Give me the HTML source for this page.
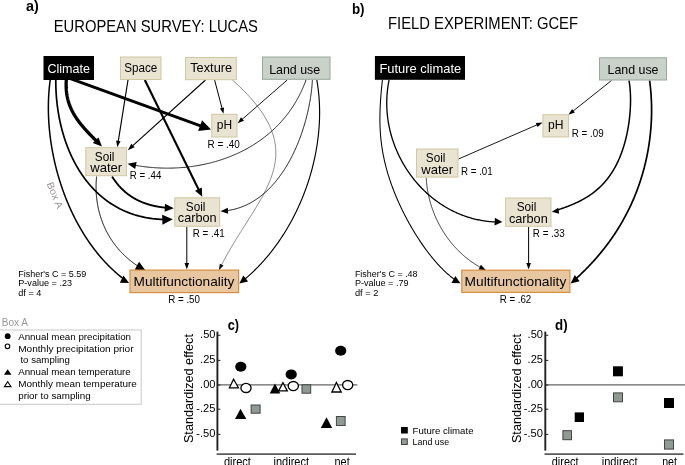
<!DOCTYPE html>
<html><head><meta charset="utf-8"><title>Figure</title>
<style>
html,body{margin:0;padding:0;background:#fff;}
body{width:685px;height:465px;overflow:hidden;}
svg{display:block;will-change:transform;font-family:"Liberation Sans",sans-serif;}
</style></head><body>
<svg width="685" height="465" viewBox="0 0 685 465">
<rect width="685" height="465" fill="#fff"/>
<text x="26.00" y="10.60" font-size="14.5" text-anchor="start" font-weight="bold" fill="#000" textLength="12.8" lengthAdjust="spacingAndGlyphs">a)</text>
<text x="53.70" y="31.80" font-size="15.9" text-anchor="start" font-weight="normal" fill="#000" textLength="204.3" lengthAdjust="spacingAndGlyphs">EUROPEAN SURVEY: LUCAS</text>
<text x="351.90" y="13.60" font-size="14.5" text-anchor="start" font-weight="bold" fill="#000" textLength="12.6" lengthAdjust="spacingAndGlyphs">b)</text>
<text x="388.00" y="29.30" font-size="15.9" text-anchor="start" font-weight="normal" fill="#000" textLength="190.0" lengthAdjust="spacingAndGlyphs">FIELD EXPERIMENT: GCEF</text>
<path d="M50.20,80.00 L50.06,81.04 L49.92,82.09 L49.79,83.14 L49.67,84.20 L49.55,85.25 L49.44,86.31 L49.33,87.37 L49.23,88.44 L49.13,89.51 L49.04,90.58 L48.96,91.66 L48.88,92.73 L48.80,93.81 L48.74,94.90 L48.67,95.98 L48.62,97.07 L48.57,98.16 L48.52,99.25 L48.48,100.35 L48.45,101.44 L48.42,102.54 L48.39,103.64 L48.38,104.75 L48.36,105.85 L48.36,106.96 L48.36,108.07 L48.36,109.18 L48.37,110.30 L48.39,111.41 L48.41,112.53 L48.44,113.65 L48.47,114.77 L48.51,115.89 L48.55,117.02 L48.60,118.14 L48.66,119.27 L48.72,120.40 L48.78,121.53 L48.85,122.66 L48.93,123.79 L49.01,124.92 L49.10,126.06 L49.20,127.19 L49.29,128.33 L49.40,129.47 L49.51,130.61 L49.62,131.75 L49.75,132.89 L49.87,134.03 L50.00,135.17 L50.14,136.31 L50.28,137.45 L50.43,138.60 L50.59,139.74 L50.74,140.88 L50.91,142.03 L51.08,143.17 L51.25,144.32 L51.44,145.46 L51.62,146.61 L51.81,147.75 L52.01,148.90 L52.21,150.04 L52.42,151.19 L52.63,152.33 L52.85,153.48 L53.08,154.62 L53.31,155.77 L53.54,156.91 L53.78,158.06 L54.03,159.20 L54.28,160.34 L54.53,161.49 L54.80,162.63 L55.06,163.77 L55.34,164.91 L55.61,166.05 L55.90,167.19 L56.18,168.32 L56.48,169.46 L56.78,170.60 L57.08,171.73 L57.39,172.87 L57.71,174.00 L58.03,175.13 L58.35,176.26 L58.68,177.39 L59.02,178.52 L59.36,179.64 L59.71,180.77 L60.06,181.89 L60.42,183.01 L60.78,184.13 L61.15,185.25 L61.52,186.36 L61.90,187.48 L62.28,188.59 L62.67,189.70 L63.07,190.81 L63.47,191.92 L63.87,193.02 L64.28,194.12 L64.70,195.22 L65.12,196.32 L65.54,197.42 L65.97,198.51 L66.41,199.60 L66.85,200.69 L67.30,201.77 L67.75,202.86 L68.21,203.94 L68.67,205.02 L69.14,206.09 L69.61,207.16 L70.08,208.23 L70.57,209.30 L71.06,210.36 L71.55,211.43 L72.05,212.48 L72.55,213.54 L73.06,214.59 L73.57,215.64 L74.09,216.68 L74.61,217.72 L75.14,218.76 L75.68,219.80 L76.22,220.83 L76.76,221.86 L77.31,222.88 L77.87,223.90 L78.43,224.92 L78.99,225.93 L79.56,226.94 L80.13,227.94 L80.72,228.95 L81.30,229.94 L81.89,230.94 L82.49,231.92 L83.09,232.91 L83.69,233.89 L84.30,234.87 L84.92,235.84 L85.54,236.81 L86.16,237.77 L86.79,238.73 L87.43,239.68 L88.07,240.63 L88.72,241.58 L89.37,242.52 L90.02,243.46 L90.68,244.39 L91.35,245.31 L92.02,246.24 L92.70,247.15 L93.38,248.06 L94.06,248.97 L94.75,249.87 L95.45,250.77 L96.15,251.66 L96.85,252.54 L97.56,253.42 L98.28,254.30 L99.00,255.17 L99.73,256.03 L100.46,256.89 L101.19,257.74 L101.93,258.59 L102.68,259.43 L103.43,260.26 L104.18,261.09 L104.94,261.92 L105.71,262.74 L106.48,263.55 L107.25,264.35 L108.03,265.15 L108.82,265.95 L109.61,266.73 L110.40,267.51 L111.20,268.29 L112.00,269.06 L112.81,269.82 L113.63,270.57 L114.44,271.32 L115.27,272.07 L116.10,272.80 L116.93,273.53 L117.77,274.25 L118.61,274.97 L119.46,275.68 L120.31,276.38 L121.17,277.07 L122.03,277.76 L122.90,278.44 L123.77,279.11 L124.34,279.55" fill="none" stroke="#000" stroke-width="1.5" stroke-linejoin="round"/>
<polygon points="129.10,283.00 119.80,282.75 123.43,275.62" fill="#000"/>
<path d="M55.80,80.00 L55.80,81.06 L55.80,82.11 L55.80,83.17 L55.82,84.23 L55.84,85.29 L55.86,86.34 L55.89,87.40 L55.93,88.46 L55.97,89.52 L56.01,90.57 L56.07,91.63 L56.13,92.69 L56.19,93.74 L56.26,94.80 L56.33,95.85 L56.42,96.91 L56.50,97.96 L56.60,99.02 L56.69,100.07 L56.80,101.12 L56.91,102.17 L57.02,103.23 L57.14,104.28 L57.27,105.32 L57.40,106.37 L57.54,107.42 L57.69,108.46 L57.84,109.51 L57.99,110.55 L58.15,111.59 L58.32,112.63 L58.49,113.67 L58.67,114.71 L58.86,115.74 L59.05,116.78 L59.24,117.81 L59.45,118.84 L59.65,119.87 L59.87,120.90 L60.09,121.92 L60.31,122.94 L60.54,123.96 L60.78,124.98 L61.02,126.00 L61.27,127.01 L61.52,128.02 L61.78,129.03 L62.05,130.04 L62.32,131.05 L62.60,132.05 L62.88,133.05 L63.17,134.04 L63.47,135.04 L63.77,136.03 L64.08,137.02 L64.39,138.00 L64.71,138.99 L65.03,139.96 L65.36,140.94 L65.70,141.91 L66.04,142.88 L66.39,143.85 L66.74,144.81 L67.10,145.77 L67.47,146.73 L67.84,147.68 L68.22,148.63 L68.60,149.58 L68.99,150.52 L69.39,151.46 L69.79,152.40 L70.19,153.33 L70.61,154.25 L71.03,155.18 L71.45,156.10 L71.88,157.01 L72.32,157.92 L72.76,158.83 L73.21,159.73 L73.67,160.63 L74.13,161.52 L74.59,162.41 L75.07,163.30 L75.55,164.17 L76.03,165.05 L76.52,165.92 L77.02,166.79 L77.52,167.65 L78.03,168.50 L78.54,169.36 L79.06,170.20 L79.59,171.04 L80.12,171.88 L80.66,172.71 L81.21,173.54 L81.76,174.36 L82.32,175.17 L82.88,175.98 L83.45,176.79 L84.02,177.58 L84.60,178.38 L85.19,179.16 L85.79,179.95 L86.38,180.72 L86.99,181.49 L87.60,182.26 L88.22,183.02 L88.84,183.77 L89.47,184.51 L90.11,185.25 L90.75,185.99 L91.40,186.72 L92.05,187.44 L92.71,188.15 L93.38,188.86 L94.05,189.56 L94.73,190.26 L95.42,190.95 L96.11,191.63 L96.80,192.31 L97.51,192.97 L98.22,193.64 L98.93,194.29 L99.65,194.94 L100.38,195.58 L101.11,196.21 L101.85,196.84 L102.60,197.46 L103.35,198.07 L104.11,198.68 L104.88,199.28 L105.65,199.87 L106.42,200.45 L107.21,201.03 L108.00,201.59 L108.79,202.15 L109.59,202.70 L110.40,203.25 L111.22,203.79 L112.04,204.31 L112.86,204.84 L113.70,205.35 L114.54,205.85 L115.38,206.35 L116.23,206.84 L117.09,207.32 L117.96,207.79 L118.83,208.25 L119.70,208.71 L120.59,209.15 L121.48,209.59 L122.37,210.02 L123.27,210.44 L124.18,210.85 L125.09,211.26 L126.02,211.65 L126.94,212.03 L127.88,212.41 L128.81,212.78 L129.76,213.14 L130.71,213.48 L131.67,213.82 L132.64,214.15 L133.61,214.47 L134.58,214.79 L135.57,215.09 L136.56,215.38 L137.55,215.66 L138.56,215.94 L139.56,216.20 L140.58,216.45 L141.60,216.70 L142.63,216.93 L143.66,217.16 L144.70,217.37 L145.75,217.57 L146.80,217.77 L147.86,217.95 L148.93,218.13 L150.00,218.29 L151.08,218.44 L152.17,218.58 L153.26,218.72 L154.36,218.84 L155.46,218.95 L156.57,219.05 L157.69,219.14 L158.81,219.22 L159.94,219.29 L161.08,219.34 L162.22,219.39 L163.37,219.42 L164.53,219.45 L165.45,219.46" fill="none" stroke="#000" stroke-width="1.7" stroke-linejoin="round"/>
<polygon points="172.80,219.30 162.47,224.63 162.15,214.64" fill="#000"/>
<path d="M66.30,80.00 L66.27,80.46 L66.24,80.92 L66.22,81.38 L66.20,81.83 L66.18,82.29 L66.16,82.74 L66.15,83.19 L66.14,83.63 L66.13,84.08 L66.13,84.52 L66.13,84.96 L66.13,85.39 L66.13,85.83 L66.14,86.26 L66.15,86.69 L66.16,87.12 L66.18,87.55 L66.19,87.97 L66.22,88.40 L66.24,88.82 L66.27,89.24 L66.29,89.65 L66.33,90.07 L66.36,90.48 L66.40,90.89 L66.44,91.30 L66.48,91.71 L66.52,92.11 L66.57,92.52 L66.62,92.92 L66.67,93.32 L66.73,93.71 L66.79,94.11 L66.85,94.50 L66.91,94.90 L66.98,95.29 L67.04,95.67 L67.11,96.06 L67.19,96.45 L67.26,96.83 L67.34,97.21 L67.42,97.59 L67.50,97.97 L67.59,98.35 L67.68,98.72 L67.76,99.09 L67.86,99.47 L67.95,99.84 L68.05,100.21 L68.15,100.57 L68.25,100.94 L68.35,101.30 L68.46,101.66 L68.57,102.02 L68.68,102.38 L68.79,102.74 L68.91,103.10 L69.02,103.45 L69.14,103.81 L69.27,104.16 L69.39,104.51 L69.52,104.86 L69.64,105.21 L69.77,105.55 L69.91,105.90 L70.04,106.24 L70.18,106.59 L70.32,106.93 L70.46,107.27 L70.60,107.61 L70.75,107.94 L70.89,108.28 L71.04,108.62 L71.19,108.95 L71.35,109.28 L71.50,109.61 L71.66,109.94 L71.82,110.27 L71.98,110.60 L72.14,110.93 L72.31,111.25 L72.48,111.58 L72.65,111.90 L72.82,112.23 L72.99,112.55 L73.16,112.87 L73.34,113.19 L73.52,113.51 L73.70,113.82 L73.88,114.14 L74.06,114.46 L74.25,114.77 L74.44,115.09 L74.63,115.40 L74.82,115.71 L75.01,116.02 L75.20,116.33 L75.40,116.64 L75.60,116.95 L75.80,117.26 L76.00,117.57 L76.20,117.87 L76.40,118.18 L76.61,118.48 L76.82,118.79 L77.03,119.09 L77.24,119.39 L77.45,119.70 L77.66,120.00 L77.88,120.30 L78.10,120.60 L78.31,120.90 L78.53,121.20 L78.76,121.49 L78.98,121.79 L79.20,122.09 L79.43,122.39 L79.66,122.68 L79.89,122.98 L80.12,123.27 L80.35,123.57 L80.58,123.86 L80.82,124.15 L81.05,124.45 L81.29,124.74 L81.53,125.03 L81.77,125.32 L82.01,125.62 L82.25,125.91 L82.49,126.20 L82.74,126.49 L82.99,126.78 L83.23,127.07 L83.48,127.36 L83.73,127.65 L83.98,127.94 L84.24,128.23 L84.49,128.51 L84.74,128.80 L85.00,129.09 L85.26,129.38 L85.52,129.67 L85.77,129.95 L86.04,130.24 L86.30,130.53 L86.56,130.82 L86.82,131.10 L87.09,131.39 L87.35,131.68 L87.62,131.97 L87.89,132.25 L88.16,132.54 L88.43,132.83 L88.70,133.11 L88.97,133.40 L89.24,133.69 L89.52,133.98 L89.79,134.26 L90.07,134.55 L90.34,134.84 L90.62,135.12 L90.90,135.41 L91.18,135.70 L91.46,135.99 L91.74,136.28 L92.02,136.57 L92.31,136.85 L92.59,137.14 L92.87,137.43 L93.16,137.72 L93.44,138.01 L93.73,138.30 L94.02,138.59 L94.30,138.88 L94.59,139.17 L94.88,139.46 L95.17,139.76 L95.46,140.05 L95.75,140.34 L96.05,140.63 L96.34,140.93 L96.63,141.22 L96.93,141.51 L97.22,141.81 L97.51,142.10 L97.55,142.14" fill="none" stroke="#000" stroke-width="3.3" stroke-linejoin="round"/>
<polygon points="102.00,146.60 92.81,143.05 98.48,137.40" fill="#000"/>
<path d="M70.40,78.60 L203.37,126.83" fill="none" stroke="#000" stroke-width="2.85" stroke-linejoin="round"/>
<polygon points="211.00,129.60 198.12,131.10 202.07,120.19" fill="#000"/>
<path d="M128.00,80.00 L118.01,142.81" fill="none" stroke="#000" stroke-width="1.15" stroke-linejoin="round"/>
<polygon points="117.30,147.30 116.10,140.53 120.54,141.23" fill="#000"/>
<path d="M144.80,80.00 L199.58,191.46" fill="none" stroke="#000" stroke-width="2.1" stroke-linejoin="round"/>
<polygon points="202.20,196.80 195.09,190.83 201.82,187.52" fill="#000"/>
<path d="M205.50,80.00 L131.44,146.92" fill="none" stroke="#000" stroke-width="1.15" stroke-linejoin="round"/>
<polygon points="127.80,150.20 131.32,143.65 134.67,147.36" fill="#000"/>
<path d="M214.60,80.00 L222.43,109.74" fill="none" stroke="#000" stroke-width="1.0" stroke-linejoin="round"/>
<polygon points="223.50,113.80 219.94,108.53 224.00,107.46" fill="#000"/>
<path d="M232.40,80.00 L233.68,81.15 L234.94,82.29 L236.18,83.43 L237.40,84.56 L238.59,85.68 L239.77,86.80 L240.92,87.92 L242.05,89.03 L243.16,90.13 L244.25,91.23 L245.31,92.32 L246.36,93.41 L247.39,94.49 L248.39,95.57 L249.37,96.64 L250.34,97.70 L251.28,98.77 L252.20,99.82 L253.11,100.87 L253.99,101.92 L254.85,102.96 L255.70,104.00 L256.52,105.03 L257.33,106.06 L258.11,107.09 L258.88,108.11 L259.63,109.12 L260.36,110.13 L261.07,111.14 L261.76,112.14 L262.43,113.14 L263.09,114.13 L263.73,115.12 L264.35,116.11 L264.95,117.09 L265.53,118.07 L266.10,119.04 L266.64,120.01 L267.17,120.98 L267.69,121.94 L268.18,122.90 L268.66,123.85 L269.13,124.81 L269.57,125.76 L270.00,126.70 L270.41,127.64 L270.81,128.58 L271.19,129.52 L271.56,130.45 L271.90,131.38 L272.24,132.31 L272.55,133.23 L272.85,134.15 L273.14,135.07 L273.41,135.99 L273.67,136.90 L273.91,137.81 L274.13,138.72 L274.34,139.62 L274.54,140.53 L274.72,141.43 L274.89,142.32 L275.04,143.22 L275.18,144.11 L275.31,145.01 L275.42,145.89 L275.51,146.78 L275.60,147.67 L275.67,148.55 L275.73,149.43 L275.77,150.31 L275.80,151.19 L275.82,152.07 L275.82,152.94 L275.82,153.81 L275.80,154.68 L275.76,155.55 L275.72,156.42 L275.66,157.29 L275.59,158.16 L275.51,159.02 L275.42,159.89 L275.32,160.75 L275.20,161.61 L275.07,162.47 L274.94,163.33 L274.79,164.19 L274.63,165.05 L274.46,165.91 L274.27,166.76 L274.08,167.62 L273.88,168.47 L273.67,169.33 L273.44,170.18 L273.21,171.04 L272.97,171.89 L272.71,172.75 L272.45,173.60 L272.18,174.45 L271.90,175.31 L271.61,176.16 L271.31,177.01 L271.00,177.87 L270.68,178.72 L270.35,179.57 L270.02,180.43 L269.67,181.28 L269.32,182.14 L268.96,182.99 L268.59,183.85 L268.22,184.70 L267.83,185.56 L267.44,186.42 L267.04,187.28 L266.64,188.14 L266.22,189.00 L265.80,189.86 L265.37,190.72 L264.94,191.58 L264.50,192.45 L264.05,193.31 L263.59,194.18 L263.13,195.05 L262.66,195.91 L262.19,196.78 L261.71,197.66 L261.22,198.53 L260.73,199.41 L260.24,200.28 L259.73,201.16 L259.23,202.04 L258.71,202.92 L258.19,203.81 L257.67,204.69 L257.14,205.58 L256.61,206.47 L256.08,207.36 L255.53,208.26 L254.99,209.15 L254.44,210.05 L253.88,210.95 L253.33,211.86 L252.77,212.76 L252.20,213.67 L251.63,214.58 L251.06,215.49 L250.48,216.41 L249.91,217.33 L249.32,218.25 L248.74,219.18 L248.15,220.10 L247.56,221.03 L246.97,221.97 L246.38,222.91 L245.78,223.85 L245.18,224.79 L244.58,225.74 L243.98,226.69 L243.38,227.64 L242.77,228.60 L242.16,229.56 L241.56,230.52 L240.95,231.49 L240.34,232.46 L239.73,233.43 L239.11,234.41 L238.50,235.40 L237.89,236.38 L237.28,237.37 L236.66,238.37 L236.05,239.37 L235.43,240.37 L234.82,241.38 L234.21,242.39 L233.60,243.41 L232.98,244.43 L232.37,245.45 L231.76,246.48 L231.15,247.52 L230.54,248.55 L229.94,249.60 L229.33,250.65 L228.73,251.70 L228.12,252.76 L227.52,253.82 L226.92,254.89 L226.32,255.96 L225.73,257.04 L225.14,258.12 L224.55,259.21 L223.96,260.31 L223.37,261.40 L222.79,262.51 L222.21,263.62 L221.63,264.74 L221.06,265.86 L220.82,266.32" fill="none" stroke="#484848" stroke-width="0.65" stroke-linejoin="round"/>
<polygon points="218.80,270.40 219.81,263.64 223.57,265.52" fill="#111"/>
<path d="M287.20,80.00 L241.03,120.31" fill="none" stroke="#000" stroke-width="0.9" stroke-linejoin="round"/>
<polygon points="237.60,123.30 240.98,117.29 244.01,120.76" fill="#000"/>
<path d="M306.00,80.00 L305.60,81.09 L305.20,82.17 L304.79,83.25 L304.37,84.32 L303.94,85.38 L303.50,86.43 L303.06,87.48 L302.60,88.52 L302.14,89.56 L301.68,90.58 L301.20,91.60 L300.72,92.62 L300.22,93.62 L299.73,94.62 L299.22,95.62 L298.70,96.60 L298.18,97.58 L297.65,98.55 L297.12,99.52 L296.57,100.48 L296.02,101.43 L295.46,102.37 L294.90,103.31 L294.33,104.24 L293.75,105.17 L293.16,106.08 L292.57,106.99 L291.97,107.90 L291.36,108.79 L290.74,109.68 L290.12,110.57 L289.49,111.44 L288.86,112.31 L288.22,113.17 L287.57,114.03 L286.92,114.88 L286.26,115.72 L285.59,116.55 L284.91,117.38 L284.23,118.20 L283.55,119.02 L282.86,119.83 L282.16,120.63 L281.45,121.42 L280.74,122.21 L280.02,122.99 L279.30,123.76 L278.57,124.53 L277.83,125.29 L277.09,126.04 L276.35,126.79 L275.59,127.53 L274.84,128.26 L274.07,128.99 L273.30,129.71 L272.53,130.42 L271.75,131.12 L270.96,131.82 L270.17,132.52 L269.37,133.20 L268.57,133.88 L267.76,134.55 L266.95,135.22 L266.13,135.88 L265.31,136.53 L264.48,137.17 L263.65,137.81 L262.81,138.44 L261.97,139.07 L261.12,139.68 L260.26,140.30 L259.41,140.90 L258.54,141.50 L257.68,142.09 L256.81,142.67 L255.93,143.25 L255.05,143.82 L254.16,144.39 L253.27,144.94 L252.38,145.49 L251.48,146.04 L250.58,146.58 L249.67,147.11 L248.76,147.63 L247.84,148.15 L246.92,148.66 L246.00,149.16 L245.07,149.66 L244.14,150.15 L243.21,150.64 L242.27,151.11 L241.32,151.58 L240.38,152.05 L239.42,152.50 L238.47,152.95 L237.51,153.40 L236.55,153.84 L235.59,154.27 L234.62,154.69 L233.65,155.11 L232.67,155.52 L231.69,155.92 L230.71,156.32 L229.73,156.71 L228.74,157.10 L227.75,157.47 L226.75,157.84 L225.75,158.21 L224.75,158.57 L223.75,158.92 L222.74,159.26 L221.73,159.60 L220.72,159.93 L219.71,160.26 L218.69,160.57 L217.67,160.89 L216.65,161.19 L215.62,161.49 L214.60,161.78 L213.57,162.07 L212.53,162.34 L211.50,162.62 L210.46,162.88 L209.42,163.14 L208.38,163.39 L207.34,163.64 L206.29,163.88 L205.24,164.11 L204.19,164.34 L203.14,164.55 L202.09,164.77 L201.03,164.97 L199.98,165.17 L198.92,165.37 L197.86,165.55 L196.79,165.73 L195.73,165.91 L194.66,166.07 L193.60,166.23 L192.53,166.39 L191.46,166.54 L190.39,166.68 L189.32,166.81 L188.24,166.94 L187.17,167.06 L186.09,167.18 L185.01,167.28 L183.93,167.39 L182.86,167.48 L181.77,167.57 L180.69,167.65 L179.61,167.73 L178.53,167.80 L177.44,167.86 L176.36,167.92 L175.27,167.97 L174.19,168.01 L173.10,168.05 L172.02,168.08 L170.93,168.10 L169.84,168.12 L168.75,168.13 L167.66,168.14 L166.57,168.14 L165.49,168.13 L164.40,168.11 L163.31,168.09 L162.22,168.06 L161.13,168.03 L160.04,167.99 L158.95,167.94 L157.86,167.89 L156.77,167.83 L155.68,167.76 L154.59,167.69 L153.50,167.61 L152.42,167.53 L151.33,167.44 L150.24,167.34 L149.15,167.23 L148.07,167.12 L146.98,167.00 L145.90,166.88 L144.81,166.75 L143.73,166.61 L142.65,166.47 L141.57,166.32 L140.48,166.17 L139.40,166.00 L138.33,165.84 L137.25,165.66 L136.17,165.48 L135.09,165.29 L134.02,165.10 L133.43,164.99" fill="none" stroke="#000" stroke-width="0.85" stroke-linejoin="round"/>
<polygon points="127.60,163.80 136.64,162.11 135.21,168.96" fill="#000"/>
<path d="M312.40,80.00 L312.36,80.76 L312.31,81.52 L312.26,82.28 L312.21,83.05 L312.15,83.82 L312.09,84.60 L312.02,85.38 L311.95,86.16 L311.88,86.95 L311.80,87.74 L311.72,88.53 L311.63,89.33 L311.54,90.13 L311.45,90.93 L311.35,91.74 L311.24,92.55 L311.14,93.36 L311.03,94.18 L310.91,95.00 L310.80,95.82 L310.67,96.65 L310.55,97.47 L310.42,98.30 L310.28,99.13 L310.15,99.97 L310.00,100.81 L309.86,101.64 L309.71,102.49 L309.55,103.33 L309.39,104.17 L309.23,105.02 L309.06,105.87 L308.89,106.72 L308.72,107.57 L308.54,108.43 L308.36,109.28 L308.17,110.14 L307.98,111.00 L307.78,111.86 L307.58,112.72 L307.38,113.58 L307.17,114.44 L306.96,115.30 L306.75,116.17 L306.53,117.03 L306.30,117.90 L306.07,118.77 L305.84,119.63 L305.61,120.50 L305.37,121.37 L305.12,122.24 L304.87,123.11 L304.62,123.98 L304.36,124.85 L304.10,125.71 L303.84,126.58 L303.57,127.45 L303.29,128.32 L303.02,129.19 L302.73,130.06 L302.45,130.92 L302.16,131.79 L301.86,132.66 L301.57,133.52 L301.26,134.39 L300.96,135.25 L300.65,136.12 L300.33,136.98 L300.01,137.84 L299.69,138.70 L299.36,139.56 L299.03,140.42 L298.69,141.27 L298.35,142.13 L298.01,142.98 L297.66,143.83 L297.30,144.68 L296.95,145.53 L296.58,146.37 L296.22,147.22 L295.85,148.06 L295.47,148.90 L295.10,149.74 L294.71,150.57 L294.33,151.41 L293.93,152.24 L293.54,153.06 L293.14,153.89 L292.74,154.71 L292.33,155.53 L291.91,156.35 L291.50,157.16 L291.08,157.98 L290.65,158.78 L290.22,159.59 L289.79,160.39 L289.35,161.19 L288.91,161.99 L288.46,162.78 L288.01,163.57 L287.55,164.35 L287.09,165.13 L286.63,165.91 L286.16,166.69 L285.69,167.46 L285.21,168.22 L284.73,168.98 L284.24,169.74 L283.75,170.49 L283.26,171.24 L282.76,171.99 L282.25,172.73 L281.75,173.46 L281.23,174.20 L280.72,174.92 L280.20,175.64 L279.67,176.36 L279.14,177.07 L278.61,177.78 L278.07,178.48 L277.53,179.18 L276.98,179.87 L276.43,180.55 L275.87,181.24 L275.31,181.91 L274.75,182.58 L274.18,183.24 L273.61,183.90 L273.03,184.56 L272.45,185.20 L271.86,185.84 L271.27,186.48 L270.67,187.11 L270.07,187.73 L269.47,188.34 L268.86,188.95 L268.25,189.56 L267.63,190.15 L267.01,190.74 L266.38,191.33 L265.75,191.91 L265.11,192.48 L264.48,193.04 L263.83,193.59 L263.18,194.14 L262.53,194.69 L261.87,195.22 L261.21,195.75 L260.54,196.27 L259.87,196.78 L259.19,197.29 L258.51,197.78 L257.83,198.27 L257.14,198.76 L256.45,199.23 L255.75,199.70 L255.04,200.16 L254.34,200.61 L253.63,201.05 L252.91,201.48 L252.19,201.91 L251.46,202.33 L250.73,202.73 L250.00,203.14 L249.26,203.53 L248.52,203.91 L247.77,204.28 L247.01,204.65 L246.26,205.01 L245.50,205.35 L244.73,205.69 L243.96,206.02 L243.18,206.34 L242.40,206.65 L241.62,206.95 L240.83,207.25 L240.03,207.53 L239.24,207.80 L238.43,208.06 L237.62,208.32 L236.81,208.56 L236.00,208.79 L235.17,209.02 L234.35,209.23 L233.52,209.43 L232.68,209.62 L231.84,209.81 L231.00,209.98 L230.15,210.14 L229.29,210.29 L228.44,210.43 L227.57,210.56 L226.70,210.68 L225.83,210.79 L225.73,210.80" fill="none" stroke="#000" stroke-width="0.9" stroke-linejoin="round"/>
<polygon points="220.50,211.20 227.77,207.68 228.19,213.66" fill="#000"/>
<path d="M316.80,80.00 L316.99,81.08 L317.17,82.15 L317.35,83.23 L317.52,84.32 L317.68,85.40 L317.83,86.49 L317.98,87.58 L318.13,88.67 L318.26,89.76 L318.39,90.86 L318.51,91.95 L318.63,93.05 L318.74,94.15 L318.84,95.26 L318.94,96.36 L319.03,97.47 L319.11,98.57 L319.19,99.68 L319.26,100.79 L319.32,101.90 L319.38,103.02 L319.43,104.13 L319.47,105.25 L319.51,106.37 L319.54,107.49 L319.57,108.61 L319.59,109.73 L319.60,110.85 L319.61,111.97 L319.61,113.10 L319.60,114.22 L319.59,115.35 L319.57,116.48 L319.54,117.61 L319.51,118.74 L319.47,119.87 L319.43,121.00 L319.38,122.13 L319.32,123.26 L319.26,124.39 L319.19,125.53 L319.11,126.66 L319.03,127.80 L318.95,128.93 L318.85,130.07 L318.75,131.20 L318.65,132.34 L318.53,133.47 L318.42,134.61 L318.29,135.75 L318.16,136.89 L318.03,138.02 L317.88,139.16 L317.74,140.30 L317.58,141.43 L317.42,142.57 L317.26,143.71 L317.08,144.85 L316.91,145.98 L316.72,147.12 L316.53,148.26 L316.34,149.39 L316.14,150.53 L315.93,151.66 L315.72,152.80 L315.50,153.93 L315.27,155.06 L315.04,156.20 L314.81,157.33 L314.56,158.46 L314.32,159.59 L314.06,160.72 L313.80,161.85 L313.54,162.98 L313.27,164.11 L312.99,165.24 L312.71,166.36 L312.42,167.49 L312.13,168.61 L311.83,169.73 L311.52,170.86 L311.21,171.98 L310.90,173.09 L310.58,174.21 L310.25,175.33 L309.92,176.44 L309.58,177.56 L309.24,178.67 L308.89,179.78 L308.53,180.89 L308.17,182.00 L307.81,183.10 L307.44,184.21 L307.06,185.31 L306.68,186.41 L306.29,187.51 L305.90,188.61 L305.50,189.70 L305.10,190.80 L304.69,191.89 L304.28,192.98 L303.86,194.07 L303.43,195.15 L303.00,196.23 L302.57,197.32 L302.13,198.39 L301.68,199.47 L301.23,200.55 L300.78,201.62 L300.31,202.69 L299.85,203.75 L299.38,204.82 L298.90,205.88 L298.42,206.94 L297.93,208.00 L297.44,209.05 L296.94,210.10 L296.44,211.15 L295.93,212.19 L295.42,213.24 L294.90,214.28 L294.38,215.31 L293.85,216.35 L293.32,217.38 L292.78,218.41 L292.24,219.43 L291.69,220.45 L291.14,221.47 L290.58,222.49 L290.02,223.50 L289.45,224.51 L288.88,225.51 L288.31,226.52 L287.72,227.51 L287.14,228.51 L286.55,229.50 L285.95,230.49 L285.35,231.47 L284.74,232.45 L284.13,233.43 L283.52,234.40 L282.90,235.37 L282.27,236.34 L281.64,237.30 L281.01,238.26 L280.37,239.21 L279.73,240.16 L279.08,241.11 L278.42,242.05 L277.77,242.99 L277.11,243.92 L276.44,244.85 L275.77,245.77 L275.09,246.69 L274.41,247.61 L273.73,248.52 L273.04,249.43 L272.34,250.33 L271.64,251.23 L270.94,252.12 L270.23,253.01 L269.52,253.89 L268.80,254.77 L268.08,255.65 L267.36,256.52 L266.63,257.38 L265.89,258.24 L265.16,259.10 L264.41,259.95 L263.67,260.79 L262.91,261.63 L262.16,262.47 L261.40,263.30 L260.63,264.12 L259.87,264.94 L259.09,265.76 L258.32,266.57 L257.53,267.37 L256.75,268.17 L255.96,268.96 L255.16,269.75 L254.37,270.53 L253.56,271.30 L252.76,272.08 L251.95,272.84 L251.13,273.60 L250.31,274.35 L249.49,275.10 L248.66,275.84 L247.83,276.58 L247.00,277.31 L246.16,278.03 L245.31,278.75 L244.47,279.46 L243.79,280.02" fill="none" stroke="#000" stroke-width="1.15" stroke-linejoin="round"/>
<polygon points="239.30,283.60 243.35,275.52 248.08,281.47" fill="#000"/>
<path d="M112.10,176.50 L112.31,176.84 L112.53,177.18 L112.75,177.52 L112.96,177.86 L113.18,178.19 L113.40,178.52 L113.62,178.85 L113.84,179.18 L114.07,179.50 L114.29,179.83 L114.51,180.15 L114.74,180.46 L114.97,180.78 L115.20,181.09 L115.43,181.41 L115.66,181.72 L115.89,182.02 L116.12,182.33 L116.35,182.63 L116.59,182.93 L116.83,183.23 L117.06,183.53 L117.30,183.82 L117.54,184.12 L117.78,184.41 L118.02,184.69 L118.26,184.98 L118.51,185.26 L118.75,185.55 L119.00,185.83 L119.24,186.11 L119.49,186.38 L119.74,186.65 L119.99,186.93 L120.24,187.20 L120.49,187.46 L120.74,187.73 L121.00,187.99 L121.25,188.26 L121.51,188.52 L121.77,188.77 L122.02,189.03 L122.28,189.28 L122.54,189.53 L122.80,189.78 L123.07,190.03 L123.33,190.28 L123.59,190.52 L123.86,190.76 L124.12,191.00 L124.39,191.24 L124.66,191.48 L124.93,191.71 L125.20,191.94 L125.47,192.17 L125.74,192.40 L126.01,192.63 L126.29,192.85 L126.56,193.08 L126.84,193.30 L127.11,193.52 L127.39,193.73 L127.67,193.95 L127.95,194.16 L128.23,194.37 L128.51,194.58 L128.80,194.79 L129.08,194.99 L129.36,195.20 L129.65,195.40 L129.93,195.60 L130.22,195.80 L130.51,196.00 L130.80,196.19 L131.09,196.38 L131.38,196.57 L131.67,196.76 L131.96,196.95 L132.26,197.14 L132.55,197.32 L132.85,197.50 L133.15,197.68 L133.44,197.86 L133.74,198.04 L134.04,198.22 L134.34,198.39 L134.64,198.56 L134.94,198.73 L135.25,198.90 L135.55,199.07 L135.85,199.23 L136.16,199.39 L136.47,199.55 L136.77,199.71 L137.08,199.87 L137.39,200.03 L137.70,200.18 L138.01,200.34 L138.32,200.49 L138.64,200.64 L138.95,200.79 L139.26,200.93 L139.58,201.08 L139.89,201.22 L140.21,201.36 L140.53,201.50 L140.85,201.64 L141.17,201.78 L141.49,201.91 L141.81,202.04 L142.13,202.18 L142.45,202.31 L142.77,202.43 L143.10,202.56 L143.42,202.69 L143.75,202.81 L144.08,202.93 L144.40,203.05 L144.73,203.17 L145.06,203.29 L145.39,203.41 L145.72,203.52 L146.05,203.63 L146.39,203.75 L146.72,203.86 L147.05,203.96 L147.39,204.07 L147.73,204.18 L148.06,204.28 L148.40,204.38 L148.74,204.48 L149.08,204.58 L149.42,204.68 L149.76,204.78 L150.10,204.87 L150.44,204.97 L150.78,205.06 L151.12,205.15 L151.47,205.24 L151.81,205.33 L152.16,205.41 L152.51,205.50 L152.85,205.58 L153.20,205.66 L153.55,205.74 L153.90,205.82 L154.25,205.90 L154.60,205.98 L154.95,206.05 L155.30,206.13 L155.66,206.20 L156.01,206.27 L156.37,206.34 L156.72,206.41 L157.08,206.48 L157.43,206.54 L157.79,206.61 L158.15,206.67 L158.51,206.73 L158.87,206.79 L159.23,206.85 L159.59,206.91 L159.95,206.97 L160.31,207.02 L160.68,207.08 L161.04,207.13 L161.40,207.18 L161.77,207.23 L162.14,207.28 L162.50,207.33 L162.87,207.37 L163.24,207.42 L163.61,207.46 L163.97,207.50 L164.34,207.55 L164.71,207.59 L165.09,207.62 L165.46,207.66 L165.83,207.70 L166.20,207.73 L166.58,207.77 L166.95,207.80 L167.33,207.83 L167.51,207.85" fill="none" stroke="#000" stroke-width="1.9" stroke-linejoin="round"/>
<polygon points="173.80,208.20 164.62,211.77 165.00,203.78" fill="#000"/>
<path d="M96.60,176.50 L96.54,177.09 L96.49,177.67 L96.44,178.26 L96.39,178.84 L96.35,179.42 L96.30,180.01 L96.27,180.59 L96.23,181.17 L96.20,181.76 L96.17,182.34 L96.15,182.92 L96.13,183.50 L96.11,184.08 L96.09,184.66 L96.08,185.24 L96.07,185.82 L96.07,186.39 L96.07,186.97 L96.07,187.55 L96.07,188.13 L96.08,188.70 L96.09,189.28 L96.10,189.85 L96.12,190.42 L96.14,191.00 L96.16,191.57 L96.19,192.14 L96.22,192.71 L96.25,193.28 L96.29,193.85 L96.33,194.42 L96.37,194.99 L96.41,195.56 L96.46,196.12 L96.52,196.69 L96.57,197.26 L96.63,197.82 L96.69,198.38 L96.75,198.95 L96.82,199.51 L96.89,200.07 L96.97,200.63 L97.04,201.19 L97.12,201.75 L97.21,202.30 L97.29,202.86 L97.38,203.42 L97.47,203.97 L97.57,204.53 L97.67,205.08 L97.77,205.63 L97.88,206.18 L97.98,206.73 L98.09,207.28 L98.21,207.83 L98.33,208.38 L98.45,208.92 L98.57,209.47 L98.70,210.01 L98.83,210.55 L98.96,211.10 L99.09,211.64 L99.23,212.18 L99.37,212.71 L99.52,213.25 L99.67,213.79 L99.82,214.32 L99.97,214.86 L100.13,215.39 L100.29,215.92 L100.45,216.45 L100.62,216.98 L100.79,217.51 L100.96,218.03 L101.13,218.56 L101.31,219.08 L101.49,219.61 L101.68,220.13 L101.87,220.65 L102.06,221.17 L102.25,221.69 L102.44,222.20 L102.64,222.72 L102.85,223.23 L103.05,223.74 L103.26,224.26 L103.47,224.77 L103.68,225.27 L103.90,225.78 L104.12,226.29 L104.34,226.79 L104.57,227.29 L104.80,227.79 L105.03,228.29 L105.26,228.79 L105.50,229.29 L105.74,229.78 L105.99,230.28 L106.23,230.77 L106.48,231.26 L106.73,231.75 L106.99,232.24 L107.25,232.72 L107.51,233.21 L107.77,233.69 L108.04,234.17 L108.31,234.65 L108.58,235.13 L108.86,235.61 L109.14,236.08 L109.42,236.55 L109.70,237.03 L109.99,237.50 L110.28,237.96 L110.57,238.43 L110.87,238.90 L111.17,239.36 L111.47,239.82 L111.77,240.28 L112.08,240.74 L112.39,241.19 L112.70,241.65 L113.02,242.10 L113.34,242.55 L113.66,243.00 L113.98,243.44 L114.31,243.89 L114.64,244.33 L114.97,244.77 L115.31,245.21 L115.64,245.65 L115.99,246.09 L116.33,246.52 L116.68,246.95 L117.03,247.38 L117.38,247.81 L117.73,248.24 L118.09,248.66 L118.45,249.08 L118.82,249.50 L119.18,249.92 L119.55,250.34 L119.92,250.75 L120.30,251.16 L120.68,251.57 L121.06,251.98 L121.44,252.38 L121.82,252.79 L122.21,253.19 L122.60,253.59 L123.00,253.99 L123.40,254.38 L123.79,254.77 L124.20,255.16 L124.60,255.55 L125.01,255.94 L125.42,256.32 L125.83,256.71 L126.25,257.08 L126.67,257.46 L127.09,257.84 L127.51,258.21 L127.94,258.58 L128.37,258.95 L128.80,259.32 L129.24,259.68 L129.67,260.04 L130.11,260.40 L130.56,260.76 L131.00,261.11 L131.45,261.46 L131.90,261.81 L132.36,262.16 L132.81,262.51 L133.27,262.85 L133.73,263.19 L134.20,263.53 L134.66,263.86 L135.13,264.20 L135.60,264.53 L136.08,264.85 L136.56,265.18 L137.04,265.50 L137.52,265.82 L138.01,266.14 L138.49,266.46 L138.98,266.77 L139.48,267.08 L139.53,267.11" fill="none" stroke="#000" stroke-width="1.0" stroke-linejoin="round"/>
<polygon points="145.60,270.60 134.67,269.68 139.04,261.81" fill="#000"/>
<path d="M186.80,227.00 L186.80,264.95" fill="none" stroke="#000" stroke-width="1.0" stroke-linejoin="round"/>
<polygon points="186.80,269.50 184.50,263.00 189.10,263.00" fill="#000"/>
<path d="M382.40,80.00 L382.25,81.37 L382.11,82.73 L381.97,84.07 L381.83,85.40 L381.70,86.73 L381.58,88.04 L381.45,89.34 L381.33,90.63 L381.22,91.91 L381.11,93.18 L381.00,94.44 L380.90,95.69 L380.81,96.93 L380.72,98.16 L380.63,99.38 L380.55,100.60 L380.47,101.80 L380.40,103.00 L380.33,104.19 L380.27,105.38 L380.21,106.55 L380.15,107.72 L380.11,108.89 L380.06,110.04 L380.03,111.19 L379.99,112.34 L379.97,113.47 L379.94,114.61 L379.93,115.73 L379.92,116.85 L379.91,117.97 L379.91,119.08 L379.91,120.19 L379.92,121.29 L379.94,122.38 L379.96,123.48 L379.99,124.57 L380.02,125.65 L380.05,126.73 L380.10,127.81 L380.15,128.89 L380.20,129.96 L380.26,131.03 L380.33,132.09 L380.40,133.16 L380.48,134.22 L380.56,135.28 L380.65,136.33 L380.75,137.39 L380.85,138.44 L380.95,139.49 L381.07,140.54 L381.19,141.58 L381.31,142.63 L381.44,143.67 L381.58,144.72 L381.72,145.76 L381.87,146.80 L382.03,147.84 L382.19,148.88 L382.36,149.92 L382.53,150.96 L382.71,151.99 L382.89,153.03 L383.09,154.07 L383.28,155.11 L383.49,156.14 L383.70,157.18 L383.92,158.22 L384.14,159.25 L384.37,160.29 L384.60,161.33 L384.85,162.37 L385.09,163.40 L385.35,164.44 L385.61,165.48 L385.87,166.52 L386.15,167.56 L386.43,168.60 L386.71,169.65 L387.00,170.69 L387.30,171.73 L387.61,172.78 L387.92,173.82 L388.23,174.87 L388.56,175.91 L388.89,176.96 L389.22,178.01 L389.56,179.06 L389.91,180.11 L390.27,181.16 L390.63,182.21 L390.99,183.27 L391.37,184.32 L391.74,185.38 L392.13,186.43 L392.52,187.49 L392.92,188.55 L393.32,189.61 L393.73,190.67 L394.15,191.73 L394.57,192.79 L395.00,193.85 L395.43,194.92 L395.87,195.98 L396.32,197.05 L396.77,198.11 L397.23,199.18 L397.70,200.24 L398.17,201.31 L398.64,202.38 L399.13,203.45 L399.61,204.51 L400.11,205.58 L400.61,206.65 L401.11,207.72 L401.63,208.79 L402.14,209.86 L402.67,210.92 L403.20,211.99 L403.73,213.06 L404.27,214.13 L404.82,215.20 L405.37,216.26 L405.93,217.33 L406.49,218.39 L407.06,219.46 L407.63,220.52 L408.21,221.58 L408.80,222.64 L409.39,223.70 L409.98,224.76 L410.58,225.81 L411.19,226.87 L411.80,227.92 L412.42,228.97 L413.04,230.02 L413.66,231.07 L414.30,232.11 L414.93,233.15 L415.58,234.19 L416.22,235.22 L416.87,236.26 L417.53,237.29 L418.19,238.31 L418.86,239.33 L419.53,240.35 L420.21,241.37 L420.89,242.38 L421.57,243.38 L422.26,244.38 L422.96,245.38 L423.65,246.37 L424.36,247.36 L425.06,248.34 L425.78,249.32 L426.49,250.29 L427.21,251.25 L427.94,252.21 L428.66,253.17 L429.40,254.11 L430.13,255.05 L430.87,255.98 L431.62,256.91 L432.36,257.83 L433.12,258.74 L433.87,259.64 L434.63,260.54 L435.39,261.42 L436.16,262.30 L436.93,263.17 L437.70,264.03 L438.47,264.88 L439.25,265.72 L440.04,266.55 L440.82,267.37 L441.61,268.18 L442.40,268.98 L443.19,269.77 L443.99,270.55 L444.79,271.31 L445.59,272.07 L446.40,272.81 L447.20,273.54 L448.01,274.26 L448.83,274.96 L449.64,275.66 L450.46,276.33 L451.28,277.00 L452.10,277.65 L452.92,278.28 L453.74,278.90 L454.57,279.51 L455.40,280.10 L455.68,280.29" fill="none" stroke="#000" stroke-width="1.05" stroke-linejoin="round"/>
<polygon points="460.40,283.30 451.46,282.92 455.34,275.92" fill="#000"/>
<path d="M389.10,80.00 L388.89,81.05 L388.69,82.10 L388.49,83.15 L388.31,84.21 L388.14,85.26 L387.98,86.31 L387.83,87.36 L387.69,88.42 L387.56,89.47 L387.43,90.52 L387.32,91.58 L387.22,92.63 L387.13,93.68 L387.05,94.73 L386.98,95.79 L386.92,96.84 L386.86,97.89 L386.82,98.94 L386.79,99.99 L386.77,101.04 L386.75,102.09 L386.75,103.14 L386.75,104.19 L386.77,105.23 L386.79,106.28 L386.83,107.33 L386.87,108.37 L386.92,109.41 L386.99,110.46 L387.06,111.50 L387.14,112.54 L387.23,113.58 L387.33,114.61 L387.43,115.65 L387.55,116.68 L387.68,117.72 L387.81,118.75 L387.96,119.78 L388.11,120.81 L388.27,121.83 L388.44,122.86 L388.62,123.88 L388.81,124.90 L389.01,125.92 L389.21,126.94 L389.43,127.95 L389.65,128.96 L389.88,129.97 L390.12,130.98 L390.37,131.99 L390.63,132.99 L390.89,133.99 L391.17,134.99 L391.45,135.98 L391.74,136.97 L392.04,137.96 L392.34,138.95 L392.66,139.94 L392.98,140.92 L393.31,141.90 L393.65,142.87 L394.00,143.84 L394.36,144.81 L394.72,145.78 L395.09,146.74 L395.47,147.70 L395.86,148.66 L396.25,149.61 L396.66,150.56 L397.07,151.51 L397.49,152.45 L397.91,153.39 L398.35,154.32 L398.79,155.25 L399.24,156.18 L399.69,157.10 L400.16,158.02 L400.63,158.94 L401.11,159.85 L401.59,160.76 L402.09,161.66 L402.59,162.56 L403.09,163.45 L403.61,164.34 L404.13,165.23 L404.66,166.11 L405.20,166.99 L405.74,167.86 L406.29,168.73 L406.85,169.59 L407.41,170.45 L407.99,171.30 L408.56,172.15 L409.15,172.99 L409.74,173.83 L410.34,174.66 L410.95,175.49 L411.56,176.31 L412.18,177.13 L412.80,177.94 L413.44,178.75 L414.07,179.55 L414.72,180.34 L415.37,181.13 L416.03,181.92 L416.69,182.70 L417.36,183.47 L418.04,184.24 L418.73,185.00 L419.41,185.75 L420.11,186.50 L420.81,187.25 L421.52,187.98 L422.24,188.71 L422.96,189.44 L423.68,190.16 L424.41,190.87 L425.15,191.58 L425.90,192.27 L426.65,192.97 L427.40,193.65 L428.16,194.33 L428.93,195.01 L429.70,195.67 L430.48,196.33 L431.27,196.98 L432.06,197.63 L432.85,198.27 L433.65,198.90 L434.46,199.52 L435.27,200.14 L436.09,200.75 L436.91,201.35 L437.74,201.95 L438.57,202.54 L439.41,203.12 L440.26,203.69 L441.11,204.26 L441.96,204.81 L442.82,205.36 L443.68,205.91 L444.55,206.44 L445.43,206.97 L446.31,207.48 L447.19,208.00 L448.08,208.50 L448.97,208.99 L449.87,209.48 L450.78,209.96 L451.69,210.43 L452.60,210.89 L453.52,211.34 L454.44,211.78 L455.37,212.22 L456.30,212.65 L457.23,213.07 L458.17,213.48 L459.12,213.88 L460.07,214.27 L461.02,214.65 L461.98,215.03 L462.94,215.39 L463.91,215.75 L464.88,216.09 L465.85,216.43 L466.83,216.76 L467.81,217.08 L468.80,217.39 L469.79,217.69 L470.79,217.98 L471.79,218.26 L472.79,218.53 L473.80,218.80 L474.81,219.05 L475.82,219.29 L476.84,219.52 L477.86,219.75 L478.89,219.96 L479.92,220.16 L480.95,220.36 L481.98,220.54 L483.02,220.71 L484.07,220.87 L485.11,221.02 L486.16,221.17 L487.22,221.30 L488.27,221.42 L489.33,221.53 L490.40,221.63 L491.46,221.72 L492.53,221.79 L493.61,221.86 L494.68,221.92 L495.76,221.96 L496.84,222.00 L496.98,222.00" fill="none" stroke="#000" stroke-width="1.3" stroke-linejoin="round"/>
<polygon points="502.30,222.00 494.51,225.40 494.91,217.81" fill="#000"/>
<path d="M426.20,177.60 L426.23,178.17 L426.26,178.75 L426.30,179.32 L426.34,179.90 L426.38,180.47 L426.42,181.05 L426.47,181.62 L426.52,182.19 L426.58,182.77 L426.63,183.34 L426.69,183.91 L426.76,184.49 L426.82,185.06 L426.89,185.63 L426.97,186.20 L427.04,186.77 L427.12,187.35 L427.20,187.92 L427.29,188.49 L427.37,189.06 L427.46,189.63 L427.56,190.20 L427.65,190.77 L427.75,191.33 L427.86,191.90 L427.96,192.47 L428.07,193.04 L428.18,193.60 L428.29,194.17 L428.41,194.73 L428.53,195.30 L428.66,195.86 L428.78,196.43 L428.91,196.99 L429.04,197.55 L429.18,198.11 L429.31,198.68 L429.46,199.24 L429.60,199.80 L429.74,200.36 L429.89,200.91 L430.05,201.47 L430.20,202.03 L430.36,202.59 L430.52,203.14 L430.68,203.70 L430.85,204.25 L431.02,204.80 L431.19,205.36 L431.37,205.91 L431.54,206.46 L431.72,207.01 L431.91,207.56 L432.09,208.10 L432.28,208.65 L432.47,209.20 L432.67,209.74 L432.86,210.29 L433.06,210.83 L433.27,211.37 L433.47,211.91 L433.68,212.45 L433.89,212.99 L434.11,213.53 L434.32,214.07 L434.54,214.60 L434.76,215.14 L434.99,215.67 L435.21,216.20 L435.44,216.73 L435.68,217.27 L435.91,217.79 L436.15,218.32 L436.39,218.85 L436.63,219.37 L436.88,219.90 L437.13,220.42 L437.38,220.94 L437.63,221.46 L437.89,221.98 L438.15,222.50 L438.41,223.02 L438.68,223.53 L438.94,224.04 L439.21,224.56 L439.48,225.07 L439.76,225.58 L440.04,226.08 L440.32,226.59 L440.60,227.10 L440.88,227.60 L441.17,228.10 L441.46,228.60 L441.76,229.10 L442.05,229.60 L442.35,230.09 L442.65,230.59 L442.95,231.08 L443.26,231.57 L443.57,232.06 L443.88,232.55 L444.19,233.04 L444.50,233.52 L444.82,234.00 L445.14,234.48 L445.47,234.96 L445.79,235.44 L446.12,235.92 L446.45,236.39 L446.78,236.86 L447.12,237.34 L447.46,237.80 L447.80,238.27 L448.14,238.74 L448.48,239.20 L448.83,239.66 L449.18,240.12 L449.53,240.58 L449.89,241.04 L450.24,241.49 L450.60,241.94 L450.96,242.39 L451.33,242.84 L451.70,243.29 L452.06,243.73 L452.44,244.17 L452.81,244.61 L453.18,245.05 L453.56,245.49 L453.94,245.92 L454.33,246.35 L454.71,246.78 L455.10,247.21 L455.49,247.63 L455.88,248.06 L456.27,248.48 L456.67,248.90 L457.07,249.31 L457.47,249.73 L457.88,250.14 L458.28,250.55 L458.69,250.96 L459.10,251.36 L459.51,251.77 L459.93,252.17 L460.34,252.57 L460.76,252.96 L461.18,253.36 L461.61,253.75 L462.03,254.14 L462.46,254.52 L462.89,254.91 L463.32,255.29 L463.76,255.67 L464.20,256.04 L464.63,256.42 L465.08,256.79 L465.52,257.16 L465.96,257.53 L466.41,257.89 L466.86,258.25 L467.31,258.61 L467.77,258.97 L468.22,259.32 L468.68,259.67 L469.14,260.02 L469.60,260.37 L470.07,260.71 L470.53,261.05 L471.00,261.39 L471.47,261.73 L471.95,262.06 L472.42,262.39 L472.90,262.72 L473.38,263.04 L473.86,263.36 L474.34,263.68 L474.83,264.00 L475.31,264.31 L475.80,264.62 L476.29,264.93 L476.79,265.23 L477.28,265.53 L477.78,265.83 L478.28,266.13 L478.78,266.42 L479.28,266.71 L479.79,267.00 L480.29,267.28 L480.80,267.56 L481.31,267.84 L481.62,268.00" fill="none" stroke="#000" stroke-width="0.8" stroke-linejoin="round"/>
<polygon points="486.00,270.20 478.57,269.42 480.89,264.76" fill="#000"/>
<path d="M458.50,159.00 L538.43,124.22" fill="none" stroke="#000" stroke-width="0.9" stroke-linejoin="round"/>
<polygon points="542.60,122.40 537.56,127.10 535.72,122.88" fill="#000"/>
<path d="M611.50,80.50 L571.96,111.97" fill="none" stroke="#000" stroke-width="0.9" stroke-linejoin="round"/>
<polygon points="568.40,114.80 572.05,108.95 574.92,112.55" fill="#000"/>
<path d="M629.00,80.50 L629.12,81.19 L629.24,81.88 L629.35,82.59 L629.46,83.30 L629.56,84.02 L629.65,84.76 L629.74,85.50 L629.83,86.25 L629.91,87.00 L629.99,87.77 L630.06,88.54 L630.13,89.32 L630.19,90.10 L630.24,90.90 L630.30,91.70 L630.34,92.50 L630.38,93.31 L630.42,94.13 L630.45,94.95 L630.48,95.78 L630.50,96.62 L630.52,97.46 L630.53,98.30 L630.54,99.15 L630.54,100.00 L630.54,100.86 L630.53,101.72 L630.51,102.58 L630.50,103.45 L630.47,104.32 L630.45,105.20 L630.41,106.08 L630.38,106.96 L630.33,107.84 L630.29,108.73 L630.23,109.62 L630.18,110.51 L630.11,111.40 L630.05,112.29 L629.97,113.19 L629.90,114.09 L629.82,114.98 L629.73,115.88 L629.64,116.78 L629.54,117.68 L629.44,118.59 L629.33,119.49 L629.22,120.39 L629.10,121.29 L628.98,122.19 L628.85,123.10 L628.72,124.00 L628.59,124.90 L628.45,125.80 L628.30,126.70 L628.15,127.60 L627.99,128.49 L627.83,129.39 L627.66,130.28 L627.49,131.18 L627.32,132.07 L627.14,132.96 L626.95,133.85 L626.76,134.73 L626.56,135.62 L626.36,136.50 L626.16,137.38 L625.95,138.25 L625.73,139.13 L625.51,140.00 L625.28,140.86 L625.05,141.73 L624.82,142.59 L624.58,143.45 L624.33,144.31 L624.08,145.16 L623.82,146.01 L623.56,146.85 L623.30,147.69 L623.03,148.53 L622.75,149.36 L622.47,150.19 L622.18,151.02 L621.89,151.84 L621.60,152.66 L621.30,153.47 L620.99,154.28 L620.68,155.08 L620.36,155.88 L620.04,156.67 L619.71,157.46 L619.38,158.25 L619.05,159.03 L618.70,159.80 L618.36,160.58 L618.01,161.34 L617.65,162.10 L617.29,162.86 L616.92,163.61 L616.55,164.35 L616.17,165.09 L615.79,165.82 L615.40,166.55 L615.01,167.27 L614.61,167.99 L614.20,168.70 L613.80,169.41 L613.38,170.11 L612.96,170.80 L612.54,171.49 L612.11,172.18 L611.68,172.86 L611.24,173.53 L610.79,174.19 L610.34,174.85 L609.89,175.51 L609.43,176.16 L608.96,176.80 L608.49,177.44 L608.01,178.07 L607.53,178.69 L607.04,179.31 L606.55,179.92 L606.05,180.53 L605.55,181.13 L605.04,181.73 L604.53,182.32 L604.01,182.90 L603.48,183.48 L602.95,184.05 L602.42,184.61 L601.88,185.17 L601.33,185.72 L600.78,186.27 L600.22,186.81 L599.66,187.35 L599.09,187.88 L598.52,188.40 L597.94,188.92 L597.36,189.43 L596.77,189.94 L596.17,190.44 L595.57,190.94 L594.96,191.42 L594.35,191.91 L593.74,192.39 L593.11,192.86 L592.48,193.33 L591.85,193.79 L591.21,194.24 L590.57,194.70 L589.91,195.14 L589.26,195.58 L588.60,196.02 L587.93,196.45 L587.25,196.87 L586.58,197.29 L585.89,197.71 L585.20,198.12 L584.50,198.52 L583.80,198.92 L583.09,199.32 L582.38,199.71 L581.66,200.10 L580.94,200.48 L580.21,200.86 L579.47,201.23 L578.73,201.60 L577.98,201.97 L577.22,202.33 L576.46,202.68 L575.70,203.04 L574.93,203.39 L574.15,203.73 L573.36,204.08 L572.57,204.42 L571.78,204.75 L570.98,205.08 L570.17,205.41 L569.36,205.74 L568.54,206.06 L567.71,206.38 L566.88,206.70 L566.04,207.01 L565.20,207.33 L564.35,207.64 L563.49,207.94 L562.63,208.25 L561.76,208.55 L560.89,208.86 L560.01,209.16 L559.12,209.45 L558.23,209.75 L557.33,210.05 L556.47,210.32" fill="none" stroke="#000" stroke-width="1.5" stroke-linejoin="round"/>
<polygon points="551.80,211.80 558.23,207.64 559.20,213.77" fill="#000"/>
<path d="M649.60,80.50 L649.75,81.62 L649.89,82.75 L650.03,83.87 L650.16,85.00 L650.29,86.13 L650.41,87.26 L650.52,88.38 L650.63,89.51 L650.73,90.64 L650.83,91.77 L650.92,92.90 L651.00,94.04 L651.08,95.17 L651.15,96.30 L651.22,97.44 L651.28,98.57 L651.34,99.70 L651.39,100.84 L651.44,101.97 L651.47,103.11 L651.51,104.24 L651.53,105.38 L651.56,106.52 L651.57,107.65 L651.58,108.79 L651.59,109.92 L651.59,111.06 L651.58,112.20 L651.57,113.34 L651.55,114.47 L651.52,115.61 L651.49,116.75 L651.46,117.88 L651.42,119.02 L651.37,120.16 L651.32,121.29 L651.26,122.43 L651.19,123.56 L651.13,124.70 L651.05,125.83 L650.97,126.97 L650.88,128.10 L650.79,129.24 L650.69,130.37 L650.59,131.51 L650.48,132.64 L650.36,133.77 L650.24,134.90 L650.12,136.03 L649.99,137.16 L649.85,138.29 L649.71,139.42 L649.56,140.55 L649.40,141.68 L649.24,142.81 L649.08,143.93 L648.91,145.06 L648.73,146.18 L648.55,147.31 L648.36,148.43 L648.17,149.55 L647.97,150.67 L647.76,151.79 L647.55,152.91 L647.34,154.03 L647.11,155.15 L646.89,156.26 L646.66,157.38 L646.42,158.49 L646.17,159.60 L645.92,160.71 L645.67,161.82 L645.41,162.93 L645.14,164.03 L644.87,165.14 L644.60,166.24 L644.31,167.35 L644.03,168.45 L643.73,169.55 L643.43,170.64 L643.13,171.74 L642.82,172.84 L642.50,173.93 L642.18,175.02 L641.86,176.11 L641.53,177.20 L641.19,178.28 L640.85,179.37 L640.50,180.45 L640.14,181.53 L639.78,182.61 L639.42,183.69 L639.05,184.76 L638.67,185.84 L638.29,186.91 L637.91,187.98 L637.51,189.04 L637.12,190.11 L636.71,191.17 L636.31,192.23 L635.89,193.29 L635.47,194.34 L635.05,195.40 L634.62,196.45 L634.18,197.50 L633.74,198.55 L633.30,199.59 L632.85,200.63 L632.39,201.67 L631.93,202.71 L631.46,203.74 L630.99,204.78 L630.51,205.80 L630.02,206.83 L629.53,207.86 L629.04,208.88 L628.54,209.90 L628.03,210.91 L627.52,211.93 L627.01,212.94 L626.49,213.94 L625.96,214.95 L625.43,215.95 L624.89,216.95 L624.35,217.95 L623.80,218.94 L623.25,219.93 L622.69,220.92 L622.13,221.91 L621.56,222.89 L620.99,223.87 L620.41,224.84 L619.83,225.82 L619.24,226.79 L618.65,227.75 L618.05,228.72 L617.45,229.68 L616.84,230.64 L616.23,231.59 L615.61,232.54 L614.99,233.49 L614.36,234.44 L613.73,235.38 L613.09,236.32 L612.45,237.25 L611.80,238.19 L611.15,239.12 L610.50,240.04 L609.84,240.97 L609.17,241.89 L608.50,242.80 L607.83,243.72 L607.15,244.63 L606.47,245.53 L605.78,246.43 L605.09,247.33 L604.39,248.23 L603.69,249.12 L602.98,250.01 L602.27,250.90 L601.56,251.78 L600.84,252.66 L600.12,253.54 L599.39,254.41 L598.66,255.28 L597.92,256.14 L597.18,257.00 L596.44,257.86 L595.69,258.71 L594.93,259.57 L594.18,260.41 L593.42,261.26 L592.65,262.10 L591.88,262.93 L591.11,263.76 L590.33,264.59 L589.55,265.42 L588.76,266.24 L587.98,267.06 L587.18,267.87 L586.39,268.68 L585.59,269.49 L584.78,270.29 L583.97,271.09 L583.16,271.89 L582.35,272.68 L581.53,273.47 L580.71,274.25 L579.88,275.03 L579.06,275.81 L578.22,276.59 L577.39,277.36 L576.55,278.13 L575.71,278.89 L575.01,279.52" fill="none" stroke="#000" stroke-width="1.7" stroke-linejoin="round"/>
<polygon points="570.60,283.40 574.79,275.12 579.65,281.34" fill="#000"/>
<path d="M528.60,227.00 L528.60,265.05" fill="none" stroke="#000" stroke-width="1.0" stroke-linejoin="round"/>
<polygon points="528.60,269.60 526.30,263.10 530.90,263.10" fill="#000"/>
<rect x="43.50" y="56.00" width="50.50" height="24.00" fill="#000"/>
<text x="68.70" y="73.20" font-size="12.4" text-anchor="middle" font-weight="normal" fill="#fff" textLength="42.5" lengthAdjust="spacingAndGlyphs">Climate</text>
<rect x="120.50" y="57.00" width="40.50" height="22.50" fill="#e9e3d1" stroke="#d1c7a2" stroke-width="1"/>
<text x="140.80" y="72.20" font-size="12.4" text-anchor="middle" font-weight="normal" fill="#000" textLength="33.0" lengthAdjust="spacingAndGlyphs">Space</text>
<rect x="185.50" y="57.50" width="50.80" height="22.20" fill="#e9e3d1" stroke="#d1c7a2" stroke-width="1"/>
<text x="211.20" y="72.20" font-size="12.4" text-anchor="middle" font-weight="normal" fill="#000" textLength="42.0" lengthAdjust="spacingAndGlyphs">Texture</text>
<rect x="262.50" y="57.00" width="67.50" height="22.30" fill="#c9d1c9" stroke="#98a89c" stroke-width="1"/>
<text x="294.70" y="73.60" font-size="12.4" text-anchor="middle" font-weight="normal" fill="#000" textLength="51.0" lengthAdjust="spacingAndGlyphs">Land use</text>
<rect x="211.80" y="114.30" width="25.20" height="22.70" fill="#e9e3d1" stroke="#d1c7a2" stroke-width="1"/>
<text x="224.40" y="129.00" font-size="12.2" text-anchor="middle" font-weight="normal" fill="#000" textLength="15.3" lengthAdjust="spacingAndGlyphs">pH</text>
<rect x="85.80" y="147.70" width="40.70" height="28.00" fill="#e9e3d1" stroke="#d1c7a2" stroke-width="1"/>
<text x="104.60" y="161.00" font-size="12.4" text-anchor="middle" font-weight="normal" fill="#000" textLength="19.6" lengthAdjust="spacingAndGlyphs">Soil</text>
<text x="106.20" y="171.80" font-size="12.4" text-anchor="middle" font-weight="normal" fill="#000" textLength="32.0" lengthAdjust="spacingAndGlyphs">water</text>
<rect x="174.80" y="197.80" width="44.90" height="28.50" fill="#e9e3d1" stroke="#d1c7a2" stroke-width="1"/>
<text x="195.60" y="210.60" font-size="12.4" text-anchor="middle" font-weight="normal" fill="#000" textLength="19.6" lengthAdjust="spacingAndGlyphs">Soil</text>
<text x="197.20" y="222.40" font-size="12.4" text-anchor="middle" font-weight="normal" fill="#000" textLength="38.8" lengthAdjust="spacingAndGlyphs">carbon</text>
<rect x="130.00" y="270.10" width="108.60" height="22.50" fill="#e8c7a0" stroke="#d88f3e" stroke-width="1.2"/>
<text x="184.00" y="286.00" font-size="12.6" text-anchor="middle" font-weight="normal" fill="#000" textLength="100.8" lengthAdjust="spacingAndGlyphs">Multifunctionality</text>
<text x="207.60" y="148.00" font-size="10.2" text-anchor="start" font-weight="normal" fill="#000" textLength="32.3" lengthAdjust="spacingAndGlyphs">R = .40</text>
<text x="129.80" y="178.90" font-size="10.2" text-anchor="start" font-weight="normal" fill="#000" textLength="31.5" lengthAdjust="spacingAndGlyphs">R = .44</text>
<text x="192.80" y="237.20" font-size="10.2" text-anchor="start" font-weight="normal" fill="#000" textLength="31.8" lengthAdjust="spacingAndGlyphs">R = .41</text>
<text x="168.20" y="303.20" font-size="10.2" text-anchor="start" font-weight="normal" fill="#000" textLength="31.8" lengthAdjust="spacingAndGlyphs">R = .50</text>
<rect x="374.90" y="56.00" width="90.10" height="23.80" fill="#000"/>
<text x="420.30" y="73.00" font-size="12.4" text-anchor="middle" font-weight="normal" fill="#fff" textLength="81.8" lengthAdjust="spacingAndGlyphs">Future climate</text>
<rect x="599.50" y="57.80" width="67.00" height="22.20" fill="#c9d1c9" stroke="#98a89c" stroke-width="1"/>
<text x="633.00" y="74.00" font-size="12.4" text-anchor="middle" font-weight="normal" fill="#000" textLength="51.0" lengthAdjust="spacingAndGlyphs">Land use</text>
<rect x="542.90" y="114.70" width="25.60" height="22.30" fill="#e9e3d1" stroke="#d1c7a2" stroke-width="1"/>
<text x="555.70" y="129.30" font-size="12.2" text-anchor="middle" font-weight="normal" fill="#000" textLength="15.5" lengthAdjust="spacingAndGlyphs">pH</text>
<rect x="416.50" y="149.00" width="41.50" height="28.10" fill="#e9e3d1" stroke="#d1c7a2" stroke-width="1"/>
<text x="435.60" y="162.30" font-size="12.4" text-anchor="middle" font-weight="normal" fill="#000" textLength="19.6" lengthAdjust="spacingAndGlyphs">Soil</text>
<text x="437.20" y="173.90" font-size="12.4" text-anchor="middle" font-weight="normal" fill="#000" textLength="32.0" lengthAdjust="spacingAndGlyphs">water</text>
<rect x="505.60" y="198.00" width="45.40" height="28.30" fill="#e9e3d1" stroke="#d1c7a2" stroke-width="1"/>
<text x="526.50" y="210.60" font-size="12.4" text-anchor="middle" font-weight="normal" fill="#000" textLength="19.6" lengthAdjust="spacingAndGlyphs">Soil</text>
<text x="528.30" y="222.50" font-size="12.4" text-anchor="middle" font-weight="normal" fill="#000" textLength="38.8" lengthAdjust="spacingAndGlyphs">carbon</text>
<rect x="461.80" y="270.20" width="108.10" height="22.20" fill="#e8c7a0" stroke="#d88f3e" stroke-width="1.2"/>
<text x="515.40" y="286.00" font-size="12.6" text-anchor="middle" font-weight="normal" fill="#000" textLength="101.8" lengthAdjust="spacingAndGlyphs">Multifunctionality</text>
<text x="571.80" y="136.60" font-size="10.2" text-anchor="start" font-weight="normal" fill="#000" textLength="31.8" lengthAdjust="spacingAndGlyphs">R = .09</text>
<text x="461.00" y="175.00" font-size="10.2" text-anchor="start" font-weight="normal" fill="#000" textLength="31.7" lengthAdjust="spacingAndGlyphs">R = .01</text>
<text x="532.80" y="236.80" font-size="10.2" text-anchor="start" font-weight="normal" fill="#000" textLength="32.0" lengthAdjust="spacingAndGlyphs">R = .33</text>
<text x="499.70" y="303.20" font-size="10.2" text-anchor="start" font-weight="normal" fill="#000" textLength="31.6" lengthAdjust="spacingAndGlyphs">R = .62</text>
<text x="18.30" y="277.10" font-size="8.9" text-anchor="start" font-weight="normal" fill="#000" textLength="68.1" lengthAdjust="spacingAndGlyphs">Fisher's C = 5.59</text>
<text x="18.30" y="286.30" font-size="8.9" text-anchor="start" font-weight="normal" fill="#000" textLength="53.7" lengthAdjust="spacingAndGlyphs">P-value = .23</text>
<text x="18.30" y="295.50" font-size="8.9" text-anchor="start" font-weight="normal" fill="#000" textLength="23.1" lengthAdjust="spacingAndGlyphs">df = 4</text>
<text x="354.90" y="277.10" font-size="8.9" text-anchor="start" font-weight="normal" fill="#000" textLength="62.7" lengthAdjust="spacingAndGlyphs">Fisher's C = .48</text>
<text x="354.90" y="286.30" font-size="8.9" text-anchor="start" font-weight="normal" fill="#000" textLength="53.6" lengthAdjust="spacingAndGlyphs">P-value = .79</text>
<text x="354.90" y="295.50" font-size="8.9" text-anchor="start" font-weight="normal" fill="#000" textLength="23.4" lengthAdjust="spacingAndGlyphs">df = 2</text>
<g transform="translate(55.0,195.2) rotate(67)">
<text x="0.00" y="3.40" font-size="9.8" text-anchor="middle" font-weight="normal" fill="#9a9494" textLength="28.0" lengthAdjust="spacingAndGlyphs">Box A</text>
</g>
<text x="1.80" y="326.00" font-size="10" text-anchor="start" font-weight="normal" fill="#999" textLength="26.2" lengthAdjust="spacingAndGlyphs">Box A</text>
<rect x="-1" y="330.0" width="142.2" height="74.3" fill="#fff" stroke="#c8c8c8" stroke-width="1"/>
<text x="18.20" y="339.50" font-size="8.8" text-anchor="start" font-weight="normal" fill="#000" textLength="112.8" lengthAdjust="spacingAndGlyphs">Annual mean precipitation</text>
<text x="18.20" y="351.60" font-size="8.8" text-anchor="start" font-weight="normal" fill="#000" textLength="115.4" lengthAdjust="spacingAndGlyphs">Monthly precipitation prior</text>
<text x="20.40" y="363.20" font-size="8.8" text-anchor="start" font-weight="normal" fill="#000" textLength="49.5" lengthAdjust="spacingAndGlyphs">to sampling</text>
<text x="18.20" y="374.80" font-size="8.8" text-anchor="start" font-weight="normal" fill="#000" textLength="112.6" lengthAdjust="spacingAndGlyphs">Annual mean temperature</text>
<text x="18.20" y="386.80" font-size="8.8" text-anchor="start" font-weight="normal" fill="#000" textLength="118.7" lengthAdjust="spacingAndGlyphs">Monthly mean temperature</text>
<text x="18.20" y="398.90" font-size="8.8" text-anchor="start" font-weight="normal" fill="#000" textLength="72.5" lengthAdjust="spacingAndGlyphs">prior to sampling</text>
<circle cx="7.7" cy="336.2" r="2.9" fill="#000"/>
<circle cx="7.5" cy="346.3" r="2.3" fill="#fff" stroke="#000" stroke-width="1.1"/>
<polygon points="7.7,369.2 11.5,374.8 3.9,374.8" fill="#000"/>
<polygon points="7.7,381.8 11.0,386.6 4.4,386.6" fill="#fff" stroke="#000" stroke-width="1.1"/>
<line x1="217.4" y1="384.9" x2="357.4" y2="384.9" stroke="#666" stroke-width="1.3"/>
<line x1="217.4" y1="331.6" x2="217.4" y2="450.6" stroke="#222" stroke-width="1.9"/>
<line x1="216.6" y1="454.1" x2="356" y2="454.1" stroke="#5c5c5c" stroke-width="1.7"/>
<line x1="217.4" y1="335.3" x2="220.4" y2="335.3" stroke="#222" stroke-width="1"/>
<text x="215.50" y="338.30" font-size="10.7" text-anchor="end" font-weight="normal" fill="#000" textLength="15.4" lengthAdjust="spacingAndGlyphs">.50</text>
<line x1="217.4" y1="360.4" x2="220.4" y2="360.4" stroke="#222" stroke-width="1"/>
<text x="215.50" y="363.40" font-size="10.7" text-anchor="end" font-weight="normal" fill="#000" textLength="15.4" lengthAdjust="spacingAndGlyphs">.25</text>
<line x1="217.4" y1="385" x2="220.4" y2="385" stroke="#222" stroke-width="1"/>
<text x="215.50" y="388.00" font-size="10.7" text-anchor="end" font-weight="normal" fill="#000" textLength="15.4" lengthAdjust="spacingAndGlyphs">.00</text>
<line x1="217.4" y1="409.2" x2="220.4" y2="409.2" stroke="#222" stroke-width="1"/>
<text x="215.50" y="412.20" font-size="10.7" text-anchor="end" font-weight="normal" fill="#000" textLength="19.2" lengthAdjust="spacingAndGlyphs">-.25</text>
<line x1="217.4" y1="434.4" x2="220.4" y2="434.4" stroke="#222" stroke-width="1"/>
<text x="215.50" y="437.40" font-size="10.7" text-anchor="end" font-weight="normal" fill="#000" textLength="19.2" lengthAdjust="spacingAndGlyphs">-.50</text>
<g transform="translate(188.7,388.6) rotate(-90)">
<text x="0.00" y="4.00" font-size="13.6" text-anchor="middle" font-weight="normal" fill="#000" textLength="109.0" lengthAdjust="spacingAndGlyphs">Standardized effect</text>
</g>
<text x="227.70" y="329.50" font-size="15" text-anchor="start" font-weight="bold" fill="#000" textLength="11.3" lengthAdjust="spacingAndGlyphs">c)</text>
<line x1="545.3" y1="384.9" x2="684.9" y2="384.9" stroke="#666" stroke-width="1.3"/>
<line x1="545.3" y1="331.6" x2="545.3" y2="450.6" stroke="#222" stroke-width="1.9"/>
<line x1="544.5" y1="454.1" x2="683.5" y2="454.1" stroke="#5c5c5c" stroke-width="1.7"/>
<line x1="545.3" y1="335.3" x2="548.3" y2="335.3" stroke="#222" stroke-width="1"/>
<text x="543.00" y="338.30" font-size="10.7" text-anchor="end" font-weight="normal" fill="#000" textLength="15.4" lengthAdjust="spacingAndGlyphs">.50</text>
<line x1="545.3" y1="360.4" x2="548.3" y2="360.4" stroke="#222" stroke-width="1"/>
<text x="543.00" y="363.40" font-size="10.7" text-anchor="end" font-weight="normal" fill="#000" textLength="15.4" lengthAdjust="spacingAndGlyphs">.25</text>
<line x1="545.3" y1="385" x2="548.3" y2="385" stroke="#222" stroke-width="1"/>
<text x="543.00" y="388.00" font-size="10.7" text-anchor="end" font-weight="normal" fill="#000" textLength="15.4" lengthAdjust="spacingAndGlyphs">.00</text>
<line x1="545.3" y1="409.2" x2="548.3" y2="409.2" stroke="#222" stroke-width="1"/>
<text x="543.00" y="412.20" font-size="10.7" text-anchor="end" font-weight="normal" fill="#000" textLength="19.2" lengthAdjust="spacingAndGlyphs">-.25</text>
<line x1="545.3" y1="434.4" x2="548.3" y2="434.4" stroke="#222" stroke-width="1"/>
<text x="543.00" y="437.40" font-size="10.7" text-anchor="end" font-weight="normal" fill="#000" textLength="19.2" lengthAdjust="spacingAndGlyphs">-.50</text>
<g transform="translate(517.3,388.6) rotate(-90)">
<text x="0.00" y="4.00" font-size="13.6" text-anchor="middle" font-weight="normal" fill="#000" textLength="109.0" lengthAdjust="spacingAndGlyphs">Standardized effect</text>
</g>
<text x="555.00" y="329.50" font-size="15" text-anchor="start" font-weight="bold" fill="#000" textLength="12.6" lengthAdjust="spacingAndGlyphs">d)</text>
<ellipse cx="240.8" cy="366.7" rx="5.6" ry="5.0" fill="#000"/>
<polygon points="233.6,379.2 238.39999999999998,387.8 229.4,387.8" fill="#fff" stroke="#000" stroke-width="1.3"/>
<ellipse cx="246" cy="387.9" rx="5.1" ry="4.6" fill="#fff" stroke="#000" stroke-width="1.3"/>
<polygon points="240.5,408.79999999999995 246.3,419.0 235.0,419.0" fill="#000"/>
<rect x="251.1" y="405.0" width="9.000000000000028" height="8.199999999999989" fill="#8f9a92" stroke="#444" stroke-width="1"/>
<polygon points="274.9,383.4 280.3,393.59999999999997 269.7,393.59999999999997" fill="#000"/>
<polygon points="283,382.7 287.3,390.90000000000003 278.6,390.90000000000003" fill="#fff" stroke="#000" stroke-width="1.3"/>
<ellipse cx="291.2" cy="374.4" rx="5.6" ry="5.0" fill="#000"/>
<ellipse cx="293.3" cy="386.1" rx="5.1" ry="4.6" fill="#fff" stroke="#000" stroke-width="1.3"/>
<rect x="302.0" y="384.8" width="8.699999999999989" height="8.399999999999977" fill="#8f9a92" stroke="#444" stroke-width="1"/>
<ellipse cx="340.7" cy="350.7" rx="5.6" ry="5.0" fill="#000"/>
<polygon points="336.4,382.5 341.2,392.0 331.90000000000003,392.0" fill="#fff" stroke="#000" stroke-width="1.3"/>
<ellipse cx="347.7" cy="385.1" rx="5.1" ry="4.6" fill="#fff" stroke="#000" stroke-width="1.3"/>
<polygon points="326.5,417.29999999999995 332.2,428.09999999999997 320.8,428.09999999999997" fill="#000"/>
<rect x="336.4" y="416.5" width="8.700000000000045" height="9" fill="#8f9a92" stroke="#444" stroke-width="1"/>
<text x="223.90" y="465.60" font-size="12.6" text-anchor="start" font-weight="normal" fill="#000" textLength="27.0" lengthAdjust="spacingAndGlyphs">direct</text>
<text x="273.50" y="465.60" font-size="12.6" text-anchor="start" font-weight="normal" fill="#000" textLength="35.5" lengthAdjust="spacingAndGlyphs">indirect</text>
<text x="334.50" y="465.60" font-size="12.6" text-anchor="start" font-weight="normal" fill="#000" textLength="15.2" lengthAdjust="spacingAndGlyphs">net</text>
<rect x="574.7" y="412.4" width="9.299999999999955" height="9.600000000000023" fill="#000"/>
<rect x="562.9" y="430.7" width="8.600000000000023" height="9.0" fill="#8f9a92" stroke="#444" stroke-width="1"/>
<rect x="613" y="366.3" width="9.899999999999977" height="10.0" fill="#000"/>
<rect x="613.5" y="392.9" width="9" height="8.900000000000034" fill="#8f9a92" stroke="#444" stroke-width="1"/>
<rect x="664" y="398" width="10" height="10" fill="#000"/>
<rect x="664.5" y="439.9" width="9" height="9.200000000000045" fill="#8f9a92" stroke="#444" stroke-width="1"/>
<text x="551.80" y="465.60" font-size="12.6" text-anchor="start" font-weight="normal" fill="#000" textLength="26.7" lengthAdjust="spacingAndGlyphs">direct</text>
<text x="601.70" y="465.60" font-size="12.6" text-anchor="start" font-weight="normal" fill="#000" textLength="35.8" lengthAdjust="spacingAndGlyphs">indirect</text>
<text x="662.20" y="465.60" font-size="12.6" text-anchor="start" font-weight="normal" fill="#000" textLength="14.8" lengthAdjust="spacingAndGlyphs">net</text>
<rect x="401" y="427" width="6.800000000000011" height="6.5" fill="#000"/>
<rect x="401.5" y="438.9" width="5.8" height="5.6" fill="#8f9a92" stroke="#444" stroke-width="1"/>
<text x="412.60" y="433.50" font-size="9.4" text-anchor="start" font-weight="normal" fill="#000" textLength="60.9" lengthAdjust="spacingAndGlyphs">Future climate</text>
<text x="412.60" y="445.00" font-size="9.4" text-anchor="start" font-weight="normal" fill="#000" textLength="36.5" lengthAdjust="spacingAndGlyphs">Land use</text>
</svg>
</body></html>
